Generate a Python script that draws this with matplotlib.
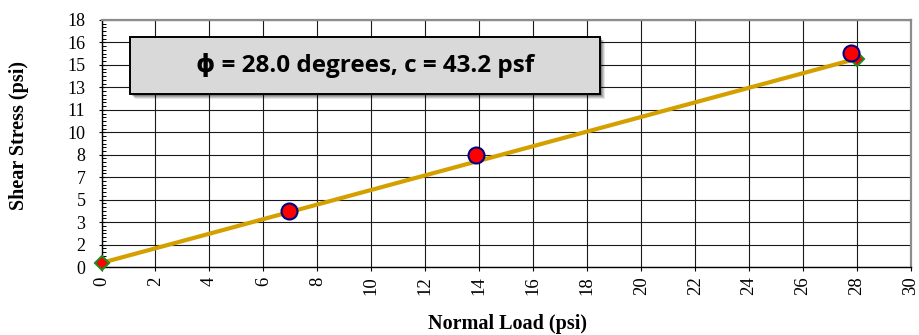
import numpy as np
import matplotlib
matplotlib.use("Agg")
import matplotlib.pyplot as plt
from matplotlib.patches import Rectangle
from matplotlib.ticker import FixedLocator

# Direct shear test results
normal_load = [6.94, 13.89, 27.78]      # psi
shear_stress = [4.10, 8.18, 15.62]      # psi

# Mohr-Coulomb failure envelope
phi_deg = 28.0
cohesion_psf = 43.2
cohesion_psi = cohesion_psf / 144.0
env_x = [0.0, 28.0]
env_y = [cohesion_psi + np.tan(np.radians(phi_deg)) * x for x in env_x]

y_max = 18
n_y_major = 11
y_ticks = [y_max * i / n_y_major for i in range(n_y_major + 1)]
y_tick_labels = [f"{v:.0f}" for v in y_ticks]
x_ticks = list(range(0, 31, 2))

W, H = 919, 335
fig = plt.figure(figsize=(W / 100, H / 100), dpi=100)
ax = fig.add_axes([101.5 / W, (H - 267) / H, (911 - 101.5) / W, (267 - 20) / H])

ax.set_xlim(0, 30)
ax.set_ylim(0, y_max)

ax.set_xticks(x_ticks)
ax.set_xticklabels([str(t) for t in x_ticks], rotation=90,
                   family="Liberation Serif", fontsize=13.5)
ax.yaxis.set_major_locator(FixedLocator(y_ticks))
ax.set_yticklabels(y_tick_labels, family="Liberation Serif", fontsize=13)
ax.yaxis.set_minor_locator(FixedLocator(
    [y_max * i / (n_y_major * 6) for i in range(n_y_major * 6 + 1)]))

ax.tick_params(axis="x", which="major", direction="out", length=3,
               width=0.8, pad=4, color="black")
ax.tick_params(axis="y", which="major", direction="inout", length=5,
               width=0.8, pad=9, color="black")
ax.tick_params(axis="y", which="minor", direction="in", length=3,
               width=0.7, color="black")

ax.grid(True, which="major", color="#1a1a1a", linewidth=0.8)
ax.set_axisbelow(True)

for side in ("top", "right"):
    ax.spines[side].set_color("#8c8c8c")
    ax.spines[side].set_linewidth(1.6)
for side in ("left", "bottom"):
    ax.spines[side].set_color("black")
    ax.spines[side].set_linewidth(1.0)

# Failure envelope
ax.plot(env_x, env_y, color="#D4A000", linewidth=3.0, zorder=3,
        solid_capstyle="butt")
ax.plot(env_x, env_y, linestyle="none", marker="D", markersize=7,
        markerfacecolor="#FF0000", markeredgecolor="#1E8C1E",
        markeredgewidth=1.5, zorder=4, clip_on=False)

# Measured points
ax.plot(normal_load, shear_stress, linestyle="none", marker="o",
        markersize=11.5, markerfacecolor="#FF0000", markeredgecolor="#000080",
        markeredgewidth=1.5, zorder=5, clip_on=False)

# Result box with soft drop shadow
bx0, by0, bw, bh = 129.5, 335 - 94, 470.5, 57.5
for k, a in enumerate([0.10, 0.12, 0.16, 0.22]):
    off = 5 - k
    fig.patches.append(Rectangle(((bx0 + off) / W, (by0 - off) / H), bw / W, bh / H,
                                 transform=fig.transFigure, facecolor="black",
                                 edgecolor="none", alpha=a, zorder=5))
fig.patches.append(Rectangle((bx0 / W, by0 / H), bw / W, bh / H,
                             transform=fig.transFigure, facecolor="#D9D9D9",
                             edgecolor="black", linewidth=1.4, zorder=6))
fig.text((bx0 + bw / 2) / W, (by0 + bh / 2) / H,
         f"\u03d5 = {phi_deg:.1f} degrees, c = {cohesion_psf:.1f} psf",
         ha="center", va="center", fontsize=17.5, fontweight="bold",
         family=["Open Sans", "DejaVu Sans"], zorder=7)

fig.text(19 / W, (H - 136) / H, "Shear Stress (psi)", rotation=90,
         ha="center", va="center", fontsize=14.5, fontweight="bold",
         family="Liberation Serif")
fig.text(508 / W, (H - 324) / H, "Normal Load (psi)", ha="center",
         va="center", fontsize=14.5, fontweight="bold",
         family="Liberation Serif")

fig.savefig("out.png", dpi=100)
